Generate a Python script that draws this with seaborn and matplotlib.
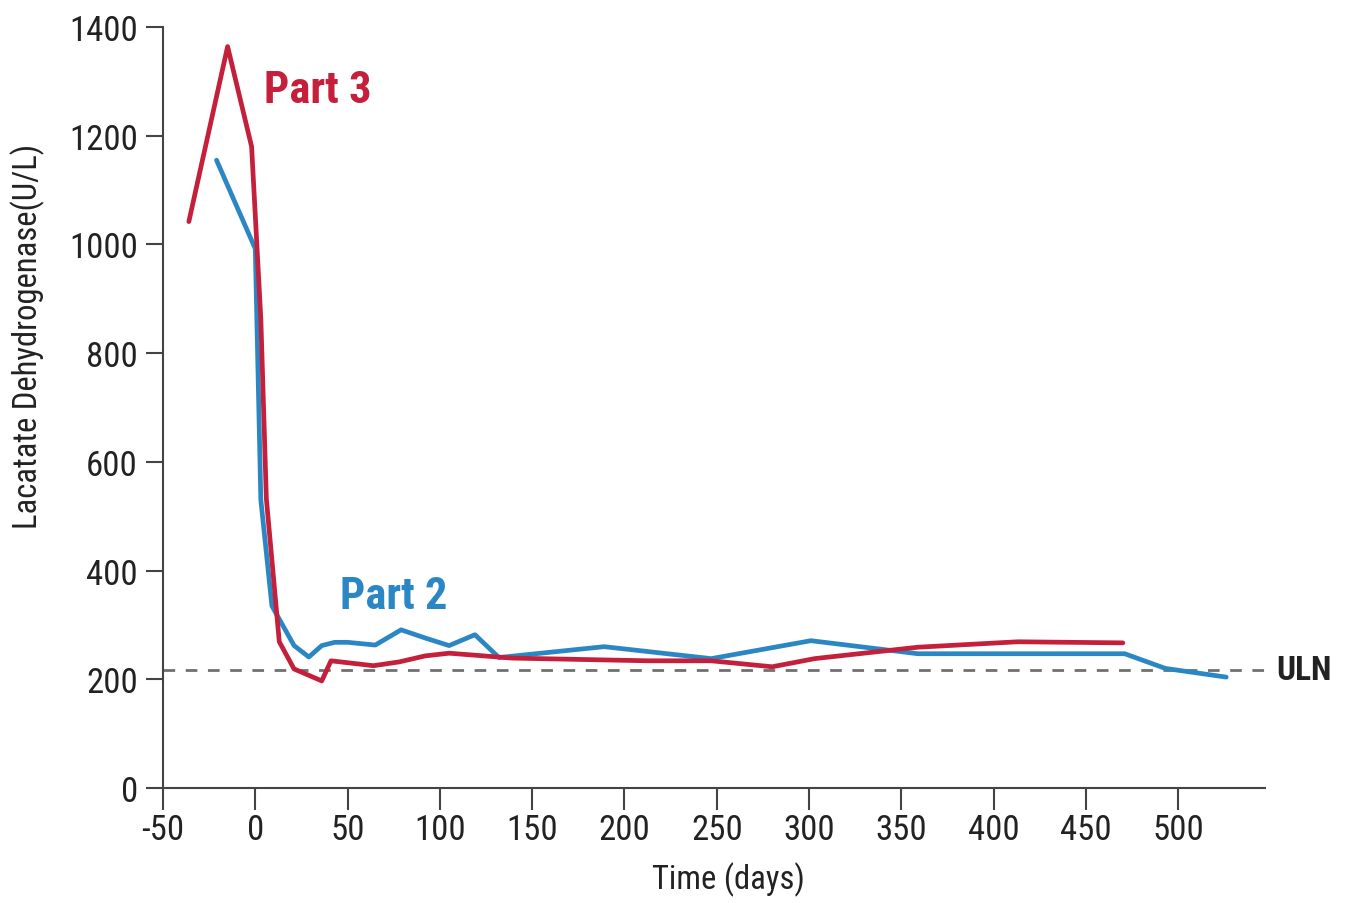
import matplotlib
matplotlib.use('Agg')
import matplotlib.pyplot as plt
import pandas as pd
import seaborn as sns

# LDH values
part2_days = [-21, 0, 3, 9, 21, 29, 36, 43, 50, 65, 79, 92, 105, 119, 132, 189, 247, 301, 359, 471, 493, 526]
part2_ldh = [1155, 992, 530, 335, 262, 241, 262, 268, 268, 263, 291, 276, 262, 282, 240, 260, 238, 271, 247, 247, 220, 204]

part3_days = [-36, -15, -2, 3, 6, 13, 21, 36, 41, 64, 78, 92, 105, 139, 213, 247, 280, 303, 359, 413, 470]
part3_ldh = [1042, 1364, 1180, 863, 532, 269, 219, 197, 234, 225, 232, 243, 248, 239, 234, 234, 223, 238, 259, 269, 267]

uln = 217
x_ticks = [-50, 0, 50, 100, 150, 200, 250, 300, 350, 400, 450, 500]
y_ticks = [0, 200, 400, 600, 800, 1000, 1200, 1400]

RED = '#C41F3B'
BLUE = '#2B87C4'

df = pd.concat([
    pd.DataFrame({'Time': part2_days, 'LDH': part2_ldh, 'Part': 'Part 2'}),
    pd.DataFrame({'Time': part3_days, 'LDH': part3_ldh, 'Part': 'Part 3'}),
], ignore_index=True)

sns.set_style('white')
plt.rcParams['font.family'] = ['Roboto Condensed', 'Archivo Narrow', 'PT Sans Narrow', 'DejaVu Sans']
plt.rcParams['axes.unicode_minus'] = False

fig = plt.figure(figsize=(13.51, 9.04), dpi=100)
ax = fig.add_axes([163 / 1351, 1 - 789 / 904, 1102 / 1351, 761 / 904])

sns.lineplot(data=df, x='Time', y='LDH', hue='Part', estimator=None, sort=False,
             palette={'Part 2': BLUE, 'Part 3': RED}, linewidth=3.4, legend=False, ax=ax)

ax.axhline(uln, color='#707070', linestyle=(0, (4.2, 3.8)), linewidth=2.0, zorder=1)

ax.set_xlim(-50, 547)
ax.set_ylim(0, 1400)
ax.set_xticks(x_ticks)
ax.set_yticks(y_ticks)
ax.set_xlabel('')
ax.set_ylabel('')

for side in ['top', 'right']:
    ax.spines[side].set_visible(False)
for side in ['left', 'bottom']:
    ax.spines[side].set_color('#444444')
    ax.spines[side].set_linewidth(1.5)

ax.tick_params(axis='x', direction='out', length=16, width=1.5, color='#444444',
               pad=2, labelsize=25, labelcolor='#222222', bottom=True)
ax.tick_params(axis='y', direction='out', length=12, width=1.5, color='#444444',
               pad=6, labelsize=25, labelcolor='#222222', left=True)

ax.text(33.6, 1284, 'Part 3', color=RED, fontsize=32, fontweight='bold', ha='center', va='center')
ax.text(74.8, 353, 'Part 2', color=BLUE, fontsize=32, fontweight='bold', ha='center', va='center')
ax.text(553, uln, 'ULN', color='#222222', fontsize=24, fontweight='bold', ha='left', va='center',
        clip_on=False)

fig.text(28 / 1351, 1 - 336 / 904, 'Lacatate Dehydrogenase(U/L)', rotation=90,
         ha='center', va='center', fontsize=23.5, color='#222222')
fig.text(728 / 1351, 1 - 880 / 904, 'Time (days)', ha='center', va='center',
         fontsize=23.5, color='#222222')

fig.savefig('out.png', dpi=100)
